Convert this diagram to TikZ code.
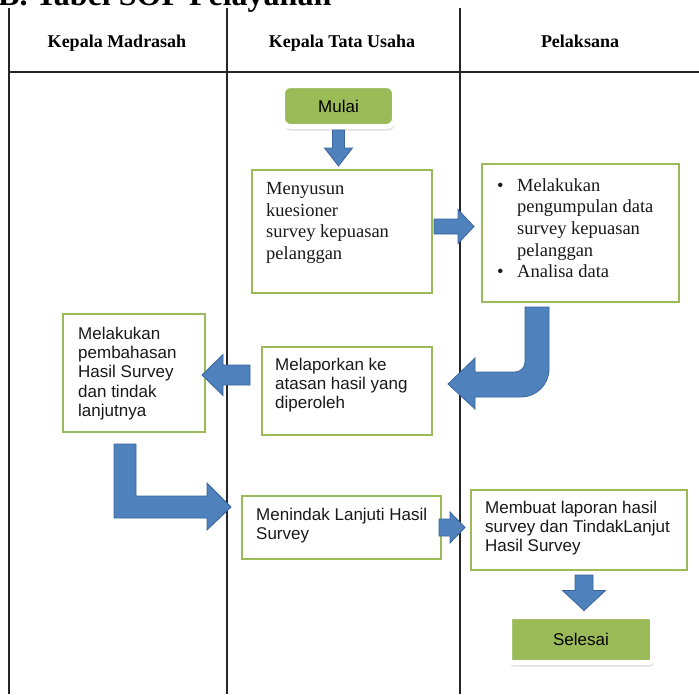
\documentclass[tikz,border=0pt]{standalone}
\usepackage{fontspec}
\setmainfont{Liberation Serif}
\newfontfamily\arialfont{Liberation Sans}
\usetikzlibrary{calc,shadows}

\definecolor{boxgreen}{HTML}{9BBB59}
\definecolor{arrowblue}{HTML}{4F81BD}
\definecolor{arrowedge}{HTML}{3A659A}

\tikzset{
    lane/.style={line width=1.2pt, draw=black!85},
    head/.style={font=\bfseries\fontsize{18}{21}\selectfont, anchor=base},
    box/.style={draw=boxgreen, line width=2.5pt, fill=white, outer sep=0pt,
        inner sep=0pt, anchor=north west},
    txt/.style={anchor=north west, inner sep=0pt, align=left, text=black!90},
    serif/.style={txt, font=\fontsize{18.5}{21.7}\selectfont},
    sans/.style={txt, font=\arialfont\fontsize{17}{19.2}\selectfont},
    terminal/.style={fill=boxgreen, draw=white, line width=5pt, outer sep=0pt,
        font=\arialfont\fontsize{17}{19}\selectfont,
        drop shadow={shadow xshift=1pt, shadow yshift=-4pt, opacity=0.25}},
    blockarrow/.style={fill=arrowblue, draw=arrowedge, line width=0.8pt, line join=miter}
}

% fat arrow: from, to, shaft width, head width, head length
\newcommand{\fatarrow}[5]{%
    \filldraw[blockarrow] let \p1=#1, \p2=#2,
        \n1={atan2(\y2-\y1,\x2-\x1)}, \n2={veclen(\x2-\x1,\y2-\y1)} in
        [shift={(\p1)}, rotate=\n1]
        (0pt,{#3*0.5pt}) -- ({(\n2-#5)*1pt},{#3*0.5pt}) -- ({(\n2-#5)*1pt},{#4*0.5pt})
        -- ({\n2*1pt},0pt)
        -- ({(\n2-#5)*1pt},{-#4*0.5pt}) -- ({(\n2-#5)*1pt},{-#3*0.5pt}) -- (0pt,{-#3*0.5pt}) -- cycle;
}

\begin{document}
\begin{tikzpicture}[x=1pt, y=-1pt]
    \useasboundingbox (0,0) rectangle (699,694);
    \fill[white] (0,0) rectangle (699,694);
    \clip (0,0) rectangle (699,694);

    % Title (cut at the top)
    \node[font=\bfseries\fontsize{32}{36}\selectfont, anchor=base west, inner sep=0pt] (judul) at (-2,5) {B. Tabel SOP Pelayanan};

    % Table
    \foreach \x in {9,227,460}
        \draw[lane] (\x,8) -- (\x,694);
    \draw[line width=2pt, black!85] (9,72) -- (699,72);

    \node[head] (hMadrasah) at (117,47) {Kepala Madrasah};
    \node[head] (hTataUsaha) at (342,47) {Kepala Tata Usaha};
    \node[head] (hPelaksana) at (580,47) {Pelaksana};

    % Start and end
    \node[terminal, rounded corners=8pt, minimum width=112pt, minimum height=41pt] (mulai) at (338.5,106) {Mulai};
    \node[terminal, rounded corners=3pt, minimum width=143pt, minimum height=46pt] (selesai) at (581,639.5) {Selesai};

    % Boxes
    \node[box, minimum width=180pt, minimum height=123pt] (menyusun) at (252,170) {};
    \node[box, minimum width=197pt, minimum height=138pt] (kumpul) at (482,164) {};
    \node[box, minimum width=170pt, minimum height=88pt] (lapor) at (262,347) {};
    \node[box, minimum width=142pt, minimum height=118pt] (bahas) at (63,314) {};
    \node[box, minimum width=199pt, minimum height=63pt] (tindak) at (242,496) {};
    \node[box, minimum width=216pt, minimum height=80pt] (laporan) at (471,490) {};

    % Box texts
    \node[serif] (menyusunTxt) at ($(menyusun.north west)+(14,12)$)
        {Menyusun\\kuesioner\\survey kepuasan\\pelanggan};
    \node[serif] (kumpulTxt) at ($(kumpul.north west)+(15,14)$)
        {\makebox[20pt][l]{\textbullet}Melakukan\\
         \hspace*{20pt}pengumpulan data\\
         \hspace*{20pt}survey kepuasan\\
         \hspace*{20pt}pelanggan\\
         \makebox[20pt][l]{\textbullet}Analisa data};
    \node[sans] (laporTxt) at ($(lapor.north west)+(13,11)$)
        {Melaporkan ke\\atasan hasil yang\\diperoleh};
    \node[sans] (bahasTxt) at ($(bahas.north west)+(15,13)$)
        {Melakukan\\pembahasan\\Hasil Survey\\dan tindak\\lanjutnya};
    \node[sans] (tindakTxt) at ($(tindak.north west)+(14,12)$)
        {Menindak Lanjuti Hasil\\Survey};
    \node[sans] (laporanTxt) at ($(laporan.north west)+(14,11)$)
        {Membuat laporan hasil\\survey dan TindakLanjut\\Hasil Survey};

    % Straight arrows
    \fatarrow{($(mulai.south)+(0,3.5)$)}{($(mulai.south |- menyusun.north)+(0,-4)$)}{12}{28}{18}
    \fatarrow{($(menyusun.east)+(2,-5)$)}{($(menyusun.east -| kumpul.west)+(-8,-5)$)}{15}{34}{16}
    \fatarrow{($(lapor.west)+(-12,-16)$)}{($(lapor.west -| bahas.east)+(-3,-16)$)}{20}{41}{21}
    \fatarrow{($(tindak.east)+(-2,0)$)}{($(tindak.east -| laporan.west)+(-6,0)$)}{17}{31}{15}
    \fatarrow{($(laporan.south)+(5,5)$)}{($(laporan.south |- selesai.north)+(5,-6)$)}{18}{43}{20}

    % U-turn arrow: Pelaksana back to Kepala Tata Usaha
    \begin{scope}[shift={(kumpul.south west)}]
        \filldraw[blockarrow] (43,5) -- (67,5) -- (67,67) arc[start angle=0, end angle=90, radius=28]
            -- (-7,95) -- (-7,107) -- (-34,82) -- (-7,56) -- (-7,70) -- (33,70)
            arc[start angle=90, end angle=0, radius=10] -- cycle;
    \end{scope}

    % L arrow: Kepala Madrasah to Menindak
    \begin{scope}[shift={(bahas.south west)}]
        \filldraw[blockarrow] (51,12) -- (73,12) -- (73,64) -- (144,64) -- (144,51) -- (168,75)
            -- (144,98) -- (144,86) -- (51,86) -- cycle;
    \end{scope}
\end{tikzpicture}
\end{document}
